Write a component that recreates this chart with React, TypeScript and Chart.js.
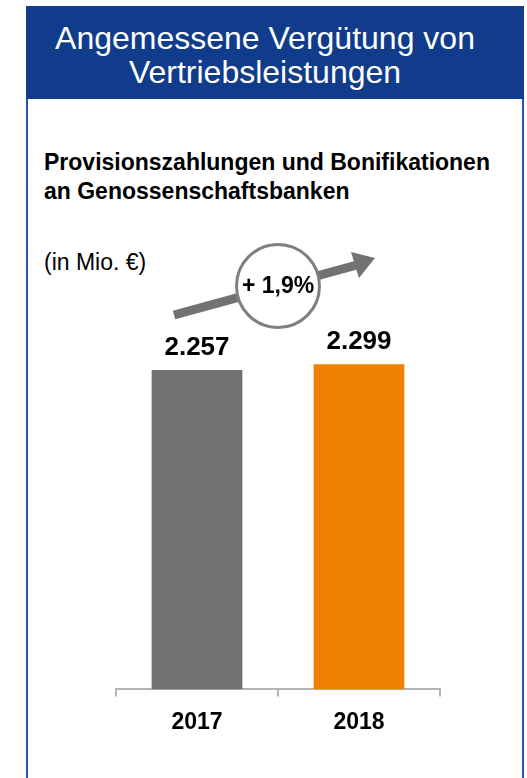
import React, { useEffect, useRef } from "react";
import { Chart, registerables } from "chart.js";

Chart.register(...registerables);

const categories = ["2017", "2018"];
const values = [2257, 2299];
const barColors = ["#717171", "#f08100"];
const titleLines = ["Angemessene Vergütung von", "Vertriebsleistungen"];
const subtitleLines = ["Provisionszahlungen und Bonifikationen", "an Genossenschaftsbanken"];
const unitLabel = "(in Mio. €)";
const growthLabel = "+ 1,9%";

const FONT = "'Liberation Sans', Arial, Helvetica, sans-serif";

function fmt(v: number): string {
  return String(v).replace(/\B(?=(\d{3})+(?!\d))/g, ".");
}

const valueLabelPlugin = {
  id: "valueLabels",
  afterDatasetsDraw(chart: any) {
    const ctx = chart.ctx;
    const meta = chart.getDatasetMeta(0);
    ctx.save();
    ctx.font = `bold 26px ${FONT}`;
    ctx.fillStyle = "#000";
    ctx.textAlign = "center";
    ctx.textBaseline = "middle";
    meta.data.forEach((bar: any, i: number) => {
      ctx.fillText(fmt(values[i]), bar.x, bar.y - 22);
    });
    ctx.restore();
  },
};

export default function App() {
  const canvasRef = useRef<HTMLCanvasElement | null>(null);

  useEffect(() => {
    if (!canvasRef.current) return;
    const chart = new Chart(canvasRef.current, {
      type: "bar",
      data: {
        labels: categories,
        datasets: [
          {
            data: values,
            backgroundColor: barColors,
            barPercentage: 0.56,
            categoryPercentage: 1,
          },
        ],
      },
      options: {
        responsive: false,
        animation: false,
        layout: { padding: { left: 116, right: 87, top: 265, bottom: 30 } },
        plugins: { legend: { display: false }, tooltip: { enabled: false } },
        scales: {
          y: { display: false, min: 0, max: 3000 },
          x: {
            grid: {
              display: true,
              drawOnChartArea: false,
              drawTicks: true,
              tickLength: 7,
              color: "#b3b3b3",
              lineWidth: 2,
              offset: true,
            },
            border: { display: true, color: "#b3b3b3", width: 2 },
            ticks: {
              color: "#000",
              padding: 12,
              font: { size: 23, weight: "bold", family: FONT },
            },
          },
        },
      },
      plugins: [valueLabelPlugin],
    } as any);
    return () => chart.destroy();
  }, []);

  return (
    <div style={{ position: "absolute", left: 0, top: 0, width: 527, height: 778, overflow: "hidden", background: "#fff", fontFamily: FONT }}>
      <div
        style={{
          position: "absolute",
          left: 26,
          top: 6,
          width: 494,
          height: 820,
          borderLeft: "2px solid #2a55a6",
          borderRight: "2px solid #2a55a6",
          borderTop: "2px solid #2a55a6",
        }}
      />
      <div
        style={{
          position: "absolute",
          left: 26,
          top: 6,
          width: 498,
          height: 93,
          background: "#103c8b",
          color: "#fff",
          fontSize: 32,
          lineHeight: "34px",
          textAlign: "center",
          paddingTop: 15,
          paddingRight: 20,
          boxSizing: "border-box",
        }}
      >
        {titleLines.map((l, i) => (
          <div key={i}>{l}</div>
        ))}
      </div>
      <div style={{ position: "absolute", left: 44, top: 148, fontSize: 23, fontWeight: "bold", lineHeight: "28.5px", color: "#000" }}>
        {subtitleLines.map((l, i) => (
          <div key={i}>{l}</div>
        ))}
      </div>
      <div style={{ position: "absolute", left: 44, top: 249, fontSize: 23, lineHeight: "26px", color: "#000" }}>{unitLabel}</div>
      <canvas ref={canvasRef} width={527} height={778} style={{ position: "absolute", left: 0, top: 0 }} />
      <svg width={527} height={778} style={{ position: "absolute", left: 0, top: 0 }}>
        <line x1={174} y1={315} x2={357} y2={265} stroke="#727272" strokeWidth={9} />
        <polygon points="375,258 351,252 359,278" fill="#727272" />
        <circle cx={278} cy={286} r={41.5} fill="#fff" stroke="#7f7f7f" strokeWidth={3} />
        <text x={278} y={285} textAnchor="middle" dominantBaseline="central" fontFamily={FONT} fontWeight="bold" fontSize={23} fill="#000">
          {growthLabel}
        </text>
      </svg>
    </div>
  );
}
